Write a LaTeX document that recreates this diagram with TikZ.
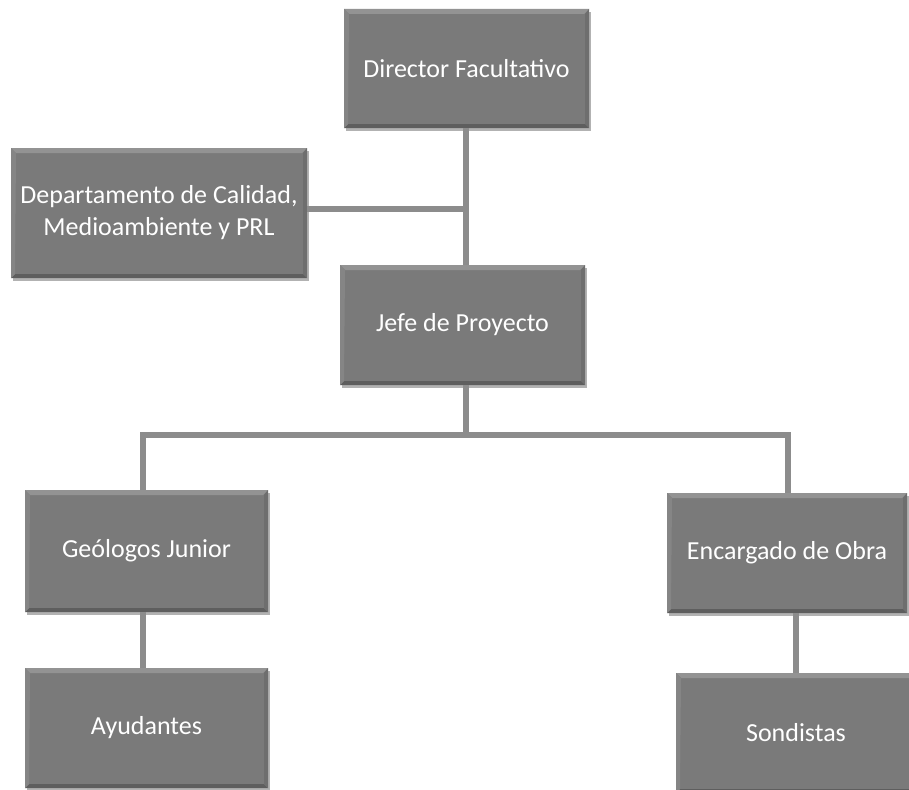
\documentclass[tikz,border=0pt]{standalone}
\usepackage{fontspec}
\setmainfont{Carlito}
\usetikzlibrary{shadows}
\definecolor{boxfill}{HTML}{7A7A7A}
\definecolor{bevlight}{HTML}{939393}
\definecolor{bevdark}{HTML}{5E5E5E}
\definecolor{linecol}{HTML}{8C8C8C}
\tikzset{
  orgbox/.style={draw=none, fill=boxfill, text=white, align=center,
    font=\fontsize{26}{32}\selectfont, inner sep=0pt,
    drop shadow={shadow xshift=2pt, shadow yshift=-3pt, opacity=0.3, fill=black},
    path picture={
      \fill[bevlight] (path picture bounding box.north west) -- (path picture bounding box.north east)
        -- ([xshift=-5pt,yshift=-5pt]path picture bounding box.north east)
        -- ([xshift=5pt,yshift=-5pt]path picture bounding box.north west) -- cycle;
      \fill[bevdark] (path picture bounding box.south west) -- (path picture bounding box.south east)
        -- ([xshift=-4pt,yshift=4pt]path picture bounding box.south east)
        -- ([xshift=4pt,yshift=4pt]path picture bounding box.south west) -- cycle;
      \fill[boxfill!90!black] (path picture bounding box.north east) -- (path picture bounding box.south east)
        -- ([xshift=-4pt,yshift=4pt]path picture bounding box.south east)
        -- ([xshift=-4pt,yshift=-5pt]path picture bounding box.north east) -- cycle;
      \fill[boxfill!92!white] (path picture bounding box.north west) -- (path picture bounding box.south west)
        -- ([xshift=4pt,yshift=4pt]path picture bounding box.south west)
        -- ([xshift=5pt,yshift=-5pt]path picture bounding box.north west) -- cycle;
    }},
  conn/.style={draw=linecol, line width=6pt}
}
\begin{document}
\begin{tikzpicture}[x=1pt,y=-1pt]
\useasboundingbox[fill=white] (0,0) rectangle (909,789);
\coordinate (vx) at (466,0);
\node[orgbox, minimum width=245pt, minimum height=119pt] (dir) at (466.5,68.5) {Director Facultativo};
\node[orgbox, minimum width=296pt, minimum height=130pt] (dept) at (159,213) {Departamento de Calidad,\\Medioambiente y PRL};
\node[orgbox, minimum width=245pt, minimum height=120pt] (jefe) at (462.5,325) {Jefe de Proyecto};
\node[orgbox, minimum width=243pt, minimum height=122pt] (geo) at (146.5,551) {Geólogos Junior};
\node[orgbox, minimum width=240pt, minimum height=120pt] (enc) at (787,553) {Encargado de Obra};
\node[orgbox, minimum width=243pt, minimum height=120pt] (ayu) at (146.5,728) {Ayudantes};
\node[orgbox, minimum width=240pt, minimum height=120pt] (son) at (796,733) {Sondistas};
\coordinate (bus) at (466,435);
\draw[conn] (dir.south -| vx) -- (jefe.north -| vx);
\draw[conn] ([yshift=4pt]dept.east) -- ([yshift=4pt]dept.east -| vx);
\draw[conn] (jefe.south -| vx) -- (bus);
\draw[conn] ([xshift=-3.5pt]geo.north) |- (bus) -| ([xshift=1pt]enc.north);
\draw[conn] ([xshift=-3.5pt]geo.south) -- ([xshift=-3.5pt]ayu.north);
\draw[conn] (enc.south -| son.north) -- (son.north);
\end{tikzpicture}
\end{document}
